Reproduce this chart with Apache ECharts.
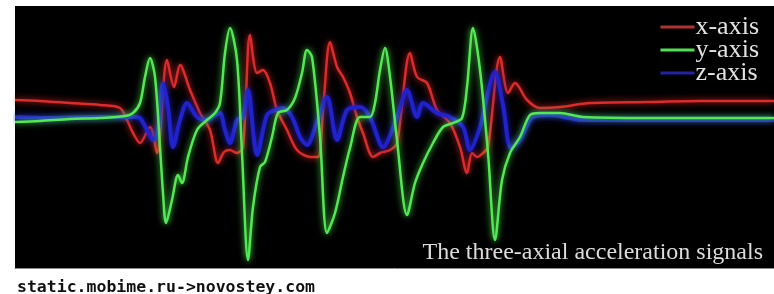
<!DOCTYPE html>
<html>
<head>
<meta charset="utf-8">
<script src="https://cdn.jsdelivr.net/npm/echarts@6/dist/echarts.min.js"></script>
<style>
  html, body { margin: 0; padding: 0; background: #fff; }
  .demo { width: 774px; height: 294px; }
</style>
</head>
<body>
<div class="demo"></div>
<script>
// sample positions (t) and acceleration
const xAxisT = [15,40,70,100,120,127,133,140,150,157,167,174,180,190,200,210,218,224,230,237,243,250,257,263,270,277,287,297,310,318,323,330,337,343,350,357,363,373,380,390,397,410,417,427,437,450,460,467,472,477,483,488,500,508,515,527,540,560,590,650,700,774]
const xAxisV = [37,36,34,32,29,17,4,-6,10,-16,77,50,72,47,24,7,-26,-15,-13,-16,-10,102,64,67,54,27,7,-13,-20,-20,27,95,70,60,44,20,4,-20,-16,-13,-6,84,60,54,27,14,-10,-36,-16,-20,-16,-10,80,44,54,37,29,30,34,35,36,36]

const yAxisT = [15,40,70,100,125,133,140,145,150,155,160,163,166,172,178,182,188,197,207,215,220,225,230,237,242,248,253,260,265,272,278,287,295,302,307,312,320,327,335,343,350,360,370,375,380,385,390,397,407,415,423,433,443,453,462,467,473,480,488,495,502,510,520,530,540,560,583,650,774]
const yAxisV = [15,16,18,19,21,24,34,60,79,60,-10,-56,-86,-63,-38,-46,-20,7,17,24,34,84,109,77,-16,-123,-70,-30,-25,0,24,27,39,64,87,80,0,-96,-76,-40,-11,20,20,34,67,89,60,-3,-78,-46,-26,-6,10,14,19,50,109,67,-16,-103,-43,-16,0,22,24,24,20,19,19]

const zAxisT = [15,50,90,120,135,140,147,153,158,163,168,173,180,187,197,207,215,220,225,230,237,243,248,257,267,275,283,292,300,307,317,327,337,347,360,370,383,397,407,417,423,437,450,463,470,480,495,503,511,520,533,550,583,633,774]
const zAxisV = [20,19,20,20,20,19,7,-3,7,54,30,-10,17,34,20,17,22,24,7,-6,17,20,47,-18,22,27,29,20,0,-8,15,40,-3,27,30,20,-10,20,47,20,34,24,20,10,-13,10,65,32,-11,-3,20,22,17,17,17]

const legendNames = ['x-axis','y-axis','z-axis']

function pairs(t, v) {
  return t.map((x, i) => [x, v[i]])
}

const chartinstance = echarts.init(document.querySelector('.demo'))

function lineSeries(name, t, v, color, legendColor, width) {
  return {
    name: name,
    type: 'line',
    smooth: 0.3,
    symbol: 'none',
    data: pairs(t, v),
    lineStyle: { color: color, width: width, shadowBlur: 6, shadowColor: color },
    itemStyle: { color: legendColor }
  }
}

const option = {
  animation: false,
  title: [
    {
      text: 'The three-axial acceleration signals',
      right: 6,
      top: 236,
      textStyle: { color: '#dcdcdc', fontFamily: 'Liberation Serif', fontSize: 24, fontWeight: 'normal' }
    },
    {
      text: 'static.mobime.ru->novostey.com',
      left: 12,
      top: 274,
      textStyle: { color: '#111', fontFamily: 'DejaVu Sans Mono', fontSize: 16.5, fontWeight: 'bold' }
    }
  ],
  legend: {
    data: legendNames,
    orient: 'vertical',
    right: 10,
    top: 9,
    icon: 'rect',
    itemWidth: 34,
    itemHeight: 3,
    itemGap: -3,
    textStyle: { color: '#e2e2e2', fontFamily: 'Liberation Serif', fontSize: 26, padding: [0, 0, 0, -4] }
  },
  grid: {
    left: 15, right: 0, top: 6, bottom: 26,
    show: true, backgroundColor: '#000', borderWidth: 0
  },
  xAxis: {
    type: 'value',
    min: 15, max: 774,
    axisLine: { show: true, onZero: false, lineStyle: { color: '#8a8a8a', width: 1 } },
    axisTick: { show: false },
    axisLabel: { show: false },
    splitLine: { show: false }
  },
  yAxis: {
    type: 'value',
    min: -131, max: 131,
    axisLine: { show: false },
    axisTick: { show: false },
    axisLabel: { show: false },
    splitLine: { show: false }
  },
  series: [
    lineSeries('x-axis', xAxisT, xAxisV, '#dd2a2a', '#b03232', 2.5),
    lineSeries('z-axis', zAxisT, zAxisV, '#2222cc', '#2222a8', 4),
    lineSeries('y-axis', yAxisT, yAxisV, '#52ea52', '#52e052', 2.5)
  ]
}
option && chartinstance.setOption(option)
window.addEventListener('resize', () => {
  chartinstance.resize()
})
</script>
</body>
</html>
